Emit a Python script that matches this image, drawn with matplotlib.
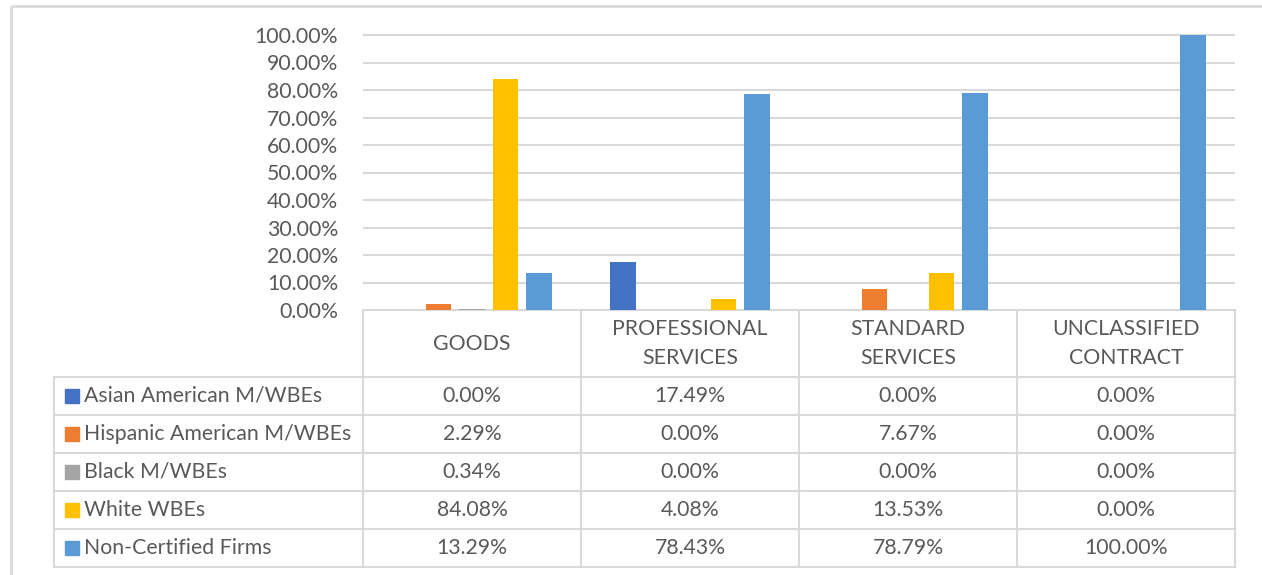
import matplotlib.pyplot as plt
from matplotlib.patches import Rectangle
import numpy as np

# data (percent)
categories = ["GOODS", "PROFESSIONAL\nSERVICES", "STANDARD\nSERVICES", "UNCLASSIFIED\nCONTRACT"]
series_names = ["Asian American M/WBEs", "Hispanic American M/WBEs", "Black M/WBEs",
                "White WBEs", "Non-Certified Firms"]
asian = [0.00, 17.49, 0.00, 0.00]
hispanic = [2.29, 0.00, 7.67, 0.00]
black = [0.34, 0.00, 0.00, 0.00]
white = [84.08, 4.08, 13.53, 0.00]
non_cert = [13.29, 78.43, 78.79, 100.00]
series_vals = [asian, hispanic, black, white, non_cert]
colors = ["#4472C4", "#ED7D31", "#A5A5A5", "#FFC000", "#5B9BD5"]
yticks = np.arange(0, 101, 10)

plt.rcParams['font.family'] = ['Lato', 'DejaVu Sans']
grid_c = '#d9d9d9'
text_c = '#595959'
fs = 15.3

W, H = 1262, 575
fig = plt.figure(figsize=(W / 100, H / 100), dpi=100)

# layout in pixels
x0, x1, y_top, y_zero = 363, 1235, 35, 310
head_bot, row_h, tab_left = 377, 38, 54
n_cat = len(categories)
col_w = (x1 - x0) / n_cat

# overlay axes in pixel coords for border + data table
tab = fig.add_axes([0, 0, 1, 1])
tab.set_xlim(0, W)
tab.set_ylim(H, 0)
tab.axis('off')
tab.add_patch(Rectangle((11, 6), W, H, fill=False, ec=grid_c, lw=2))

ax = fig.add_axes([x0 / W, 1 - y_zero / H, (x1 - x0) / W, (y_zero - y_top) / H])
ax.set_facecolor('none')

slot = 0.1537
bw = 0.119
xs = np.arange(n_cat)
for j, (vals, c) in enumerate(zip(series_vals, colors)):
    ax.bar(xs + (j - 2) * slot, vals, width=bw, color=c, zorder=3)

ax.set_xlim(-0.5, n_cat - 0.5)
ax.set_ylim(0, 100)
ax.hlines(yticks[1:], -0.5, n_cat - 0.5, color=grid_c, lw=1.5, zorder=1, clip_on=False)
ax.set_yticks(yticks)
ax.set_yticklabels([f"{v:.2f}%" for v in yticks], color=text_c, fontsize=fs)
ax.tick_params(axis='y', length=0, pad=18)
ax.set_xticks([])
for s in ax.spines.values():
    s.set_visible(False)

# data table
n_rows = len(series_names)
tab_bot = head_bot + n_rows * row_h
lkw = dict(color=grid_c, lw=1.5)
tab.plot([x0, x1], [y_zero, y_zero], **lkw)
for r in range(n_rows + 1):
    y = head_bot + r * row_h
    tab.plot([tab_left, x1], [y, y], **lkw)
tab.plot([tab_left, tab_left], [head_bot, tab_bot], **lkw)
for k in range(n_cat + 1):
    x = x0 + k * col_w
    tab.plot([x, x], [y_zero, tab_bot], **lkw)

for k, cat in enumerate(categories):
    tab.text(x0 + (k + 0.5) * col_w, (y_zero + head_bot) / 2, cat, ha='center', va='center',
             color=text_c, fontsize=fs, linespacing=1.55)

for r, (name, vals, c) in enumerate(zip(series_names, series_vals, colors)):
    yc = head_bot + (r + 0.5) * row_h
    tab.add_patch(Rectangle((65, yc - 7), 14, 14, color=c))
    tab.text(84, yc, name, ha='left', va='center', color=text_c, fontsize=fs)
    for k, v in enumerate(vals):
        tab.text(x0 + (k + 0.5) * col_w, yc, f"{v:.2f}%", ha='center', va='center',
                 color=text_c, fontsize=fs)

fig.savefig("out.png", dpi=100)
